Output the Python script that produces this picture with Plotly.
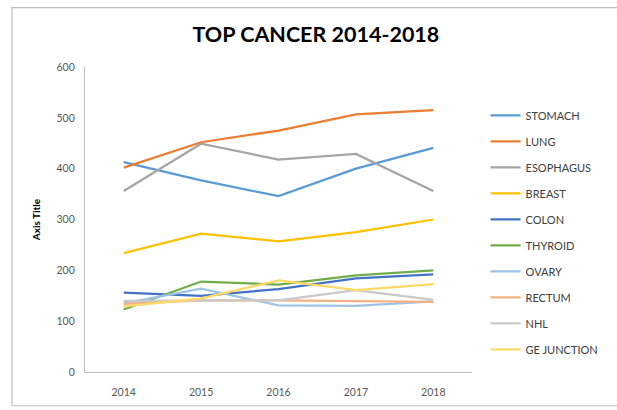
import plotly.graph_objects as go

years = ["2014", "2015", "2016", "2017", "2018"]

stomach = [413, 377, 346, 400, 441]
lung = [402, 452, 475, 507, 515]
esophagus = [356, 449, 418, 429, 356]
breast = [234, 272, 257, 275, 300]
colon = [156, 150, 163, 184, 192]
thyroid = [123, 178, 172, 190, 200]
ovary = [135, 164, 131, 130, 139]
rectum = [134, 141, 141, 139, 138]
nhl = [140, 141, 141, 161, 142]
ge_junction = [129, 145, 180, 161, 173]

series = [
    ("STOMACH", stomach, "#5B9BD5"),
    ("LUNG", lung, "#ED7D31"),
    ("ESOPHAGUS", esophagus, "#A5A5A5"),
    ("BREAST", breast, "#FFC000"),
    ("COLON", colon, "#4472C4"),
    ("THYROID", thyroid, "#70AD47"),
    ("OVARY", ovary, "#9DC3E6"),
    ("RECTUM", rectum, "#F4B183"),
    ("NHL", nhl, "#C9C9C9"),
    ("GE JUNCTION", ge_junction, "#FFD966"),
]

fig = go.Figure()
for name, vals, color in series:
    fig.add_trace(go.Scatter(
        x=years, y=vals, name=name, mode="lines",
        legendgroup=name,
        line=dict(color=color, width=2.25),
    ))

# chart-area border
fig.add_shape(type="rect", xref="paper", yref="paper",
              x0=-0.1886, x1=1.40, y0=-0.1107, y1=1.195,
              line=dict(color="#BFBFBF", width=1.2), layer="below")

fig.update_layout(
    width=617, height=410,
    margin=dict(l=85, r=145, t=67, b=36),
    paper_bgcolor="white", plot_bgcolor="white",
    title=dict(text="<b>TOP CANCER 2014-2018</b>", x=0.512, xanchor="center",
               y=0.915, yanchor="middle",
               font=dict(family="Lato", size=21.5, color="#000000")),
    font=dict(family="Lato", color="#595959"),
    xaxis=dict(type="category", range=[-0.5, 4.5], showgrid=False,
               showline=True, linecolor="#BFBFBF", linewidth=1.2,
               ticks="", tickfont=dict(size=10.5, color="#595959"),
               ticklabelstandoff=10, zeroline=False, fixedrange=True),
    yaxis=dict(range=[0, 600], dtick=100, showgrid=False,
               showline=True, linecolor="#BFBFBF", linewidth=1.2,
               ticks="", tickfont=dict(size=10.5, color="#595959"),
               ticklabelstandoff=7, zeroline=False,
               title=dict(text="<b>Axis Title</b>", standoff=14,
                          font=dict(size=10, color="#000000"))),
    legend=dict(x=1.035, y=0.889, xanchor="left", yanchor="top",
                font=dict(size=11, color="#404040"),
                tracegroupgap=7, itemwidth=30, bgcolor="rgba(0,0,0,0)"),
    showlegend=True,
)

fig.write_html("out.html")
